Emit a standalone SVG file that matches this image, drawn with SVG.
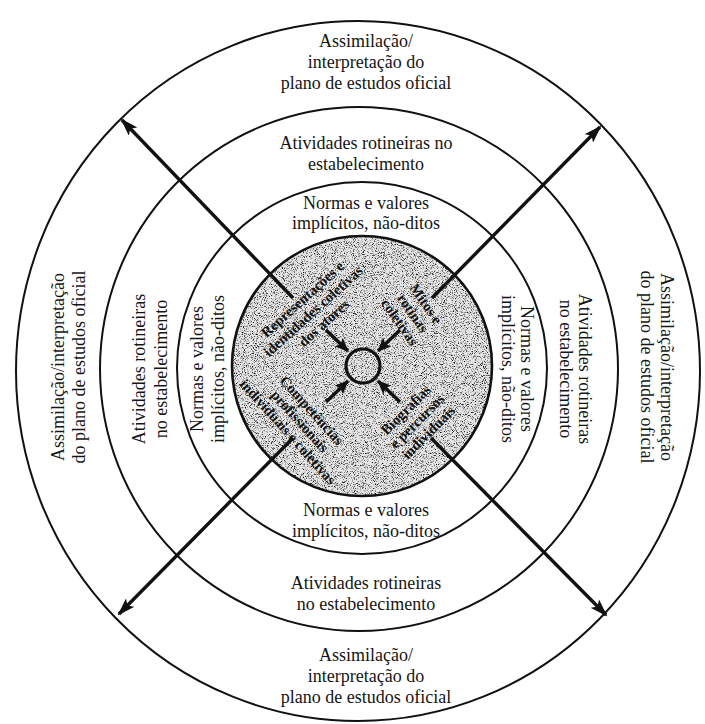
<svg xmlns="http://www.w3.org/2000/svg" width="705" height="724" viewBox="0 0 705 724">
<style>
.ring{fill:none;stroke:#111;stroke-width:2}
.t{font-family:"Liberation Serif","Times New Roman",serif;font-size:18px;fill:#151515;text-anchor:middle}
.c{font-family:"Liberation Serif","Times New Roman",serif;font-size:14.5px;font-weight:bold;fill:#111;text-anchor:middle}
.arr{stroke:#111;stroke-width:3.4;fill:none;marker-end:url(#head)}
.sarr{stroke:#111;stroke-width:3.4;fill:none;marker-end:url(#shead)}
</style>
<defs>
<marker id="head" markerUnits="userSpaceOnUse" markerWidth="18" markerHeight="12" refX="16" refY="6" orient="auto" viewBox="0 0 18 12">
<path d="M0,0 L18,6 L0,12 L4,6 z" fill="#111"/>
</marker>
<marker id="shead" markerUnits="userSpaceOnUse" markerWidth="14" markerHeight="12" refX="13" refY="6" orient="auto" viewBox="0 0 14 12">
<path d="M0,0 L14,6 L0,12 L3,6 z" fill="#111"/>
</marker>
<filter id="noise" x="0" y="0" width="100%" height="100%">
<feTurbulence type="fractalNoise" baseFrequency="1.1" numOctaves="2" seed="7" result="n"/>
<feColorMatrix in="n" type="matrix" values="0 0 0 0 0  0 0 0 0 0  0 0 0 0 0  -3.2 0 0 0 1.6" result="a"/>
<feComposite in="a" in2="SourceGraphic" operator="in"/>
</filter>
</defs>

<g id="ring-outer"><ellipse class="ring" cx="358" cy="371" rx="342" ry="350"/></g>
<g id="ring-routines"><ellipse class="ring" cx="359" cy="369" rx="259" ry="262"/></g>
<g id="ring-norms"><ellipse class="ring" cx="362" cy="368" rx="185" ry="186"/></g>
<g id="core">
<circle cx="362" cy="366" r="130" fill="#e6e6e6"/>
<circle cx="362" cy="366" r="130" fill="#000" filter="url(#noise)"/>
<circle cx="362" cy="366" r="130" fill="none" stroke="#111" stroke-width="2.6"/>
</g>
<g id="center-circle"><circle cx="363" cy="366" r="17" fill="none" stroke="#111" stroke-width="3.2"/></g>

<g id="labels-outer">
<text class="t" x="366" y="47">Assimilação/</text>
<text class="t" x="366" y="68">interpretação do</text>
<text class="t" x="366" y="89">plano de estudos oficial</text>
<text class="t" x="366" y="661">Assimilação/</text>
<text class="t" x="366" y="682">interpretação do</text>
<text class="t" x="366" y="703">plano de estudos oficial</text>
<text class="t" transform="translate(64,367) rotate(-90)">Assimilação/interpretação</text>
<text class="t" transform="translate(85,367) rotate(-90)">do plano de estudos oficial</text>
<text class="t" transform="translate(661,367) rotate(90)">Assimilação/interpretação</text>
<text class="t" transform="translate(641,367) rotate(90)">do plano de estudos oficial</text>
</g>
<g id="labels-routines">
<text class="t" x="366" y="149">Atividades rotineiras no</text>
<text class="t" x="366" y="170">estabelecimento</text>
<text class="t" x="366" y="589">Atividades rotineiras</text>
<text class="t" x="366" y="610">no estabelecimento</text>
<text class="t" transform="translate(145,369) rotate(-90)">Atividades rotineiras</text>
<text class="t" transform="translate(167,369) rotate(-90)">no estabelecimento</text>
<text class="t" transform="translate(579,369) rotate(90)">Atividades rotineiras</text>
<text class="t" transform="translate(560,369) rotate(90)">no estabelecimento</text>
</g>
<g id="labels-norms">
<text class="t" x="366" y="209">Normas e valores</text>
<text class="t" x="366" y="229">implícitos, não-ditos</text>
<text class="t" x="366" y="516">Normas e valores</text>
<text class="t" x="366" y="537">implícitos, não-ditos</text>
<text class="t" transform="translate(203,369) rotate(-90)">Normas e valores</text>
<text class="t" transform="translate(224,369) rotate(-90)">implícitos, não-ditos</text>
<text class="t" transform="translate(521,369) rotate(90)">Normas e valores</text>
<text class="t" transform="translate(502,369) rotate(90)">implícitos, não-ditos</text>
</g>
<g id="labels-core">
<text class="c" transform="translate(313,311) rotate(-42)"><tspan x="0" y="-11">Representações e</tspan><tspan x="0" y="5">identidades coletivas</tspan><tspan x="0" y="21">dos atores</tspan></text>
<text class="c" transform="translate(413,313) rotate(55)"><tspan x="0" y="-11">Mitos e</tspan><tspan x="0" y="5">rotinas</tspan><tspan x="0" y="21">coletivas</tspan></text>
<text class="c" transform="translate(300,421) rotate(48)"><tspan x="0" y="-11">Competências</tspan><tspan x="0" y="5">profissionais</tspan><tspan x="0" y="21">individuais e coletivas</tspan></text>
<text class="c" transform="translate(417,421) rotate(-45)"><tspan x="0" y="-11">Biografias</tspan><tspan x="0" y="5">e percursos</tspan><tspan x="0" y="21">individuais</tspan></text>
</g>

<g id="connectors">
<line class="arr" x1="293" y1="298" x2="122" y2="120"/>
<line class="arr" x1="432" y1="298" x2="600" y2="127"/>
<line class="arr" x1="293" y1="438" x2="119" y2="614"/>
<line class="arr" x1="431" y1="438" x2="606" y2="615"/>
<line class="sarr" x1="326" y1="330" x2="348" y2="351"/>
<line class="sarr" x1="400" y1="330" x2="378" y2="351"/>
<line class="sarr" x1="326" y1="402" x2="348" y2="381"/>
<line class="sarr" x1="400" y1="402" x2="378" y2="381"/>
</g>
</svg>
